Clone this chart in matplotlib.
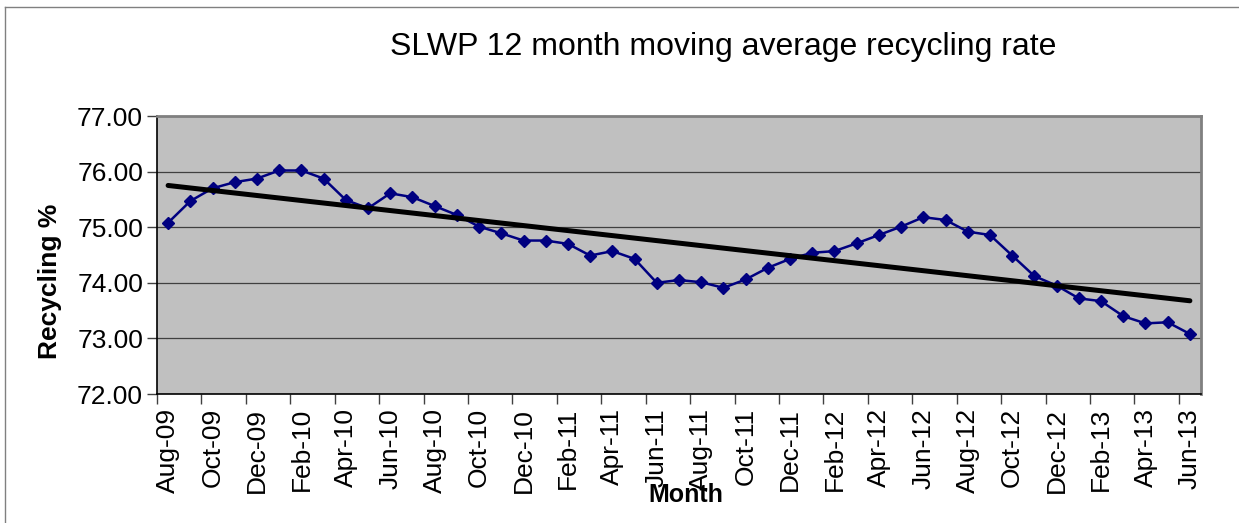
import matplotlib
matplotlib.use("Agg")
import matplotlib.pyplot as plt
import numpy as np
from matplotlib.lines import Line2D

plt.rcParams['font.family'] = ['Liberation Sans', 'DejaVu Sans']

months = ["Aug-09", "Sep-09", "Oct-09", "Nov-09", "Dec-09",
          "Jan-10", "Feb-10", "Mar-10", "Apr-10", "May-10", "Jun-10", "Jul-10",
          "Aug-10", "Sep-10", "Oct-10", "Nov-10", "Dec-10",
          "Jan-11", "Feb-11", "Mar-11", "Apr-11", "May-11", "Jun-11", "Jul-11",
          "Aug-11", "Sep-11", "Oct-11", "Nov-11", "Dec-11",
          "Jan-12", "Feb-12", "Mar-12", "Apr-12", "May-12", "Jun-12", "Jul-12",
          "Aug-12", "Sep-12", "Oct-12", "Nov-12", "Dec-12",
          "Jan-13", "Feb-13", "Mar-13", "Apr-13", "May-13", "Jun-13"]
recycling = [75.08, 75.47, 75.70, 75.81, 75.875, 76.02, 76.02, 75.875, 75.49, 75.34,
             75.61, 75.54, 75.38, 75.22, 75.01, 74.89, 74.76, 74.76, 74.70, 74.49,
             74.57, 74.43, 74.00, 74.05, 74.01, 73.91, 74.06, 74.27, 74.43, 74.54,
             74.57, 74.71, 74.86, 75.01, 75.18, 75.13, 74.92, 74.86, 74.49, 74.12,
             73.95, 73.72, 73.67, 73.40, 73.27, 73.29, 73.08]
yticks = [72.0, 73.0, 74.0, 75.0, 76.0, 77.0]

W, H = 1239, 523
fig = plt.figure(figsize=(W / 100, H / 100), dpi=100)
L, R, T, B = 157, 1201, 116, 394
ax = fig.add_axes([L / W, 1 - B / H, (R - L) / W, (B - T) / H])
ax.set_facecolor('#C0C0C0')

x = np.arange(len(months))
ax.plot(x, recycling, color='#000080', lw=1.8, marker='D', ms=6.5,
        markerfacecolor='#000080', markeredgecolor='#000080', zorder=3)

coef = np.polyfit(x, recycling, 1)
ax.plot(x, np.polyval(coef, x), color='black', lw=3.6, solid_capstyle='round', zorder=4)

ax.set_xlim(-0.5, len(months) - 0.5)
ax.set_ylim(72, 77)
ax.set_yticks(yticks)
ax.set_yticklabels([f"{v:.2f}" for v in yticks], fontsize=19)
ax.yaxis.grid(True, color='#404040', lw=0.9)
ax.set_axisbelow(True)

# category ticks at boundaries, labels at every other category
ax.set_xticks(np.arange(-0.5, len(months), 2))
ax.set_xticklabels([])
ax.set_xticks(x[::2], minor=True)
ax.set_xticklabels(months[::2], minor=True, rotation=90, fontsize=19)
ax.tick_params(axis='x', which='minor', length=0, pad=10)
ax.tick_params(axis='x', which='major', length=7, width=1, color='#404040')
ax.tick_params(axis='y', length=7, width=1, color='#404040', pad=3)

for s in ['top', 'right']:
    ax.spines[s].set_color('#808080')
    ax.spines[s].set_linewidth(2.0)
for s in ['left', 'bottom']:
    ax.spines[s].set_color('black')
    ax.spines[s].set_linewidth(1.2)

fig.text(723 / W, 1 - 47 / H, "SLWP 12 month moving average recycling rate",
         fontsize=23, ha='center', va='center')
fig.text(50 / W, 1 - 281 / H, "Recycling %", fontsize=19, fontweight='bold',
         rotation=90, ha='center', va='center')
fig.text(686 / W, 1 - 495 / H, "Month", fontsize=18, fontweight='bold',
         ha='center', va='center')

# outer chart border (visible on left and top)
fig.add_artist(Line2D([5 / W, 5 / W], [0, 1 - 7 / H], transform=fig.transFigure,
                      color='#808080', lw=1))
fig.add_artist(Line2D([5 / W, 1], [1 - 7 / H, 1 - 7 / H], transform=fig.transFigure,
                      color='#808080', lw=1))

fig.savefig("out.png", dpi=100)
